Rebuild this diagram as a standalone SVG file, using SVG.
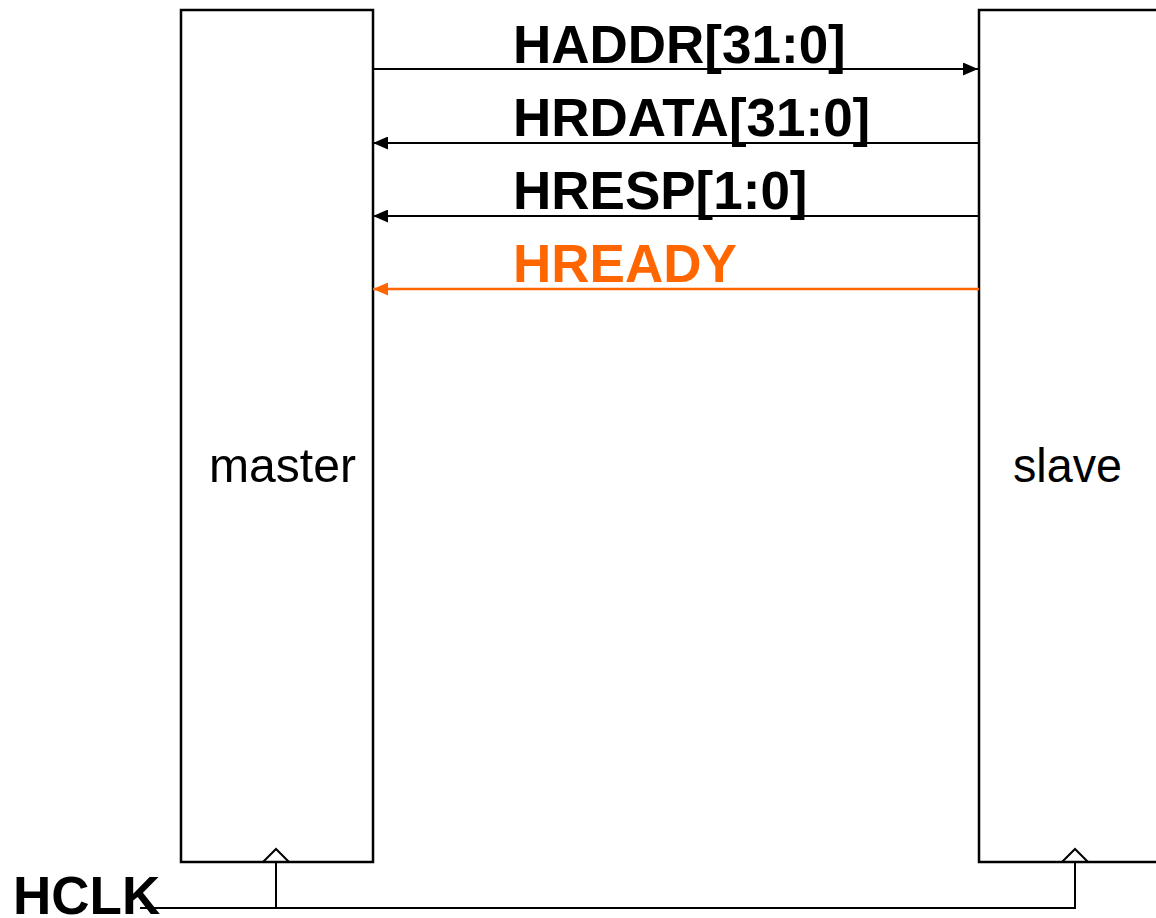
<svg xmlns="http://www.w3.org/2000/svg" width="1156" height="918" viewBox="0 0 1156 918">
<defs>
<marker id="ah" markerWidth="15" markerHeight="13" refX="15" refY="6.5" orient="auto" markerUnits="userSpaceOnUse" viewBox="0 0 15 13"><path d="M0,0 L15,6.5 L0,13 z" fill="#000"/></marker>
<marker id="aho" markerWidth="15" markerHeight="13" refX="15" refY="6.5" orient="auto" markerUnits="userSpaceOnUse" viewBox="0 0 15 13"><path d="M0,0 L15,6.5 L0,13 z" fill="#FF6600"/></marker>
</defs>
<style>
.box{fill:#fff;stroke:#000;stroke-width:2.5}
.lbl{font-family:"Liberation Sans",Arial,sans-serif;font-size:48px;fill:#000}
.sig{font-family:"Liberation Sans",Arial,sans-serif;font-size:53px;font-weight:bold;fill:#000}
.w{stroke:#000;stroke-width:2;fill:none}
</style>
<rect width="1156" height="918" fill="#fff"/>
<g id="master">
<rect class="box" x="181" y="10" width="192" height="852"/>
<text class="lbl" x="209" y="482" textLength="147" lengthAdjust="spacingAndGlyphs">master</text>
<path class="w" d="M263,862 L276,849 L289,862"/>
</g>
<g id="slave">
<rect class="box" x="979" y="10" width="200" height="852"/>
<text class="lbl" x="1013" y="482" textLength="109" lengthAdjust="spacingAndGlyphs">slave</text>
<path class="w" d="M1062,862 L1075,849 L1088,862"/>
</g>
<g id="labels">
<text class="sig" x="513" y="63">HADDR[31:0]</text>
<text class="sig" x="513" y="136">HRDATA[31:0]</text>
<text class="sig" x="513" y="209">HRESP[1:0]</text>
<text class="sig" x="513" y="282" style="fill:#FF6600">HREADY</text>
<text class="sig" x="13" y="914">HCLK</text>
</g>
<g id="connectors">
<line class="w" x1="372" y1="69" x2="978" y2="69" marker-end="url(#ah)"/>
<line class="w" x1="979" y1="143" x2="373" y2="143" marker-end="url(#ah)"/>
<line class="w" x1="979" y1="216" x2="373" y2="216" marker-end="url(#ah)"/>
<line x1="979" y1="289" x2="373" y2="289" stroke="#FF6600" stroke-width="2.5" marker-end="url(#aho)"/>
<path class="w" d="M140,908 L1075,908 L1075,862"/>
<line class="w" x1="276" y1="908" x2="276" y2="862"/>
</g>
</svg>
